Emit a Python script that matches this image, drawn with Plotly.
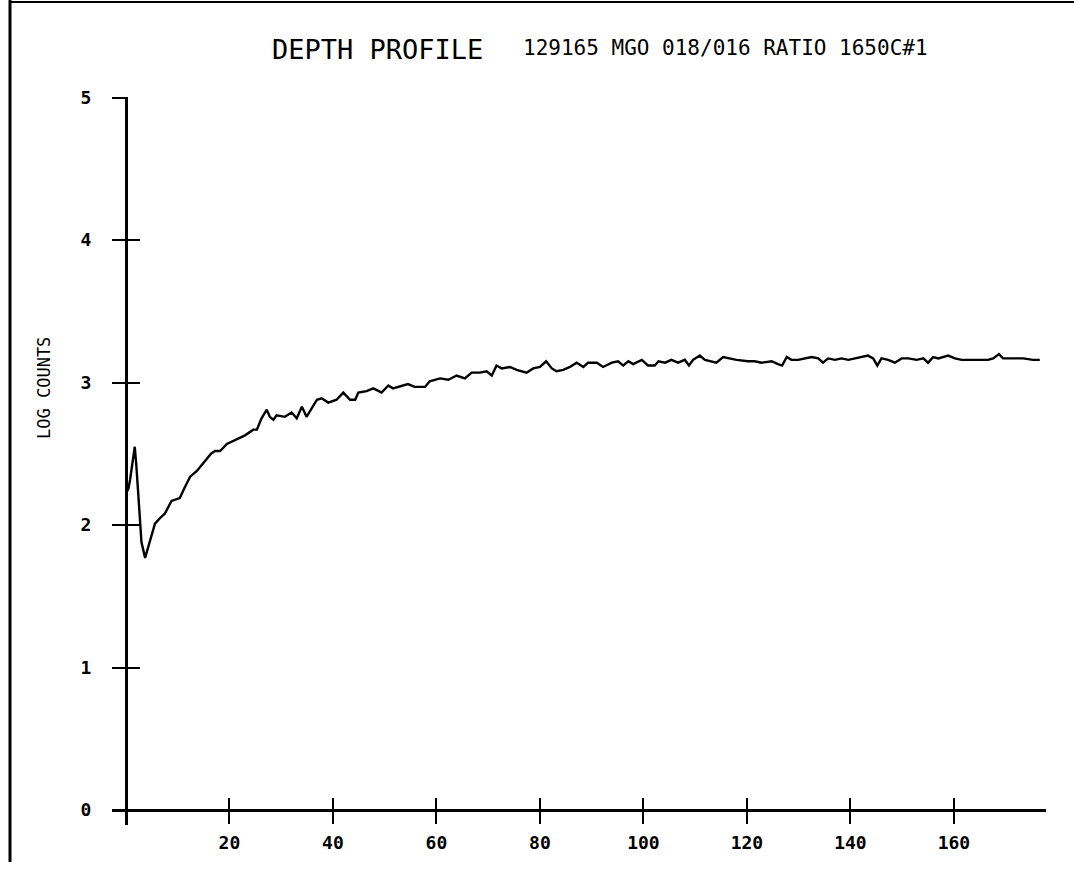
import plotly.graph_objects as go

# ---------------- data ----------------
depth = [0.0, 0.5, 0.8, 1.2, 1.5, 1.7, 2.0, 2.3, 2.6, 3.0, 3.7, 4.6, 5.6, 6.6, 7.5, 8.8,
         10.4, 11.3, 12.4, 13.7, 14.6, 15.6, 16.4, 17.2, 18.2, 19.5, 21.1, 23.0, 24.6,
         25.3, 26.2, 27.2, 27.8, 28.5, 29.1, 30.7, 32.0, 33.0, 34.0, 34.9, 36.9, 37.8,
         39.1, 40.7, 42.0, 43.3, 44.3, 44.9, 46.5, 47.8, 49.4, 50.7, 51.6, 53.3, 54.5,
         55.8, 57.8, 58.7, 60.7, 62.3, 63.9, 65.5, 66.8, 68.4, 69.7, 70.7, 71.6, 72.6,
         74.2, 75.5, 77.4, 78.7, 80.0, 81.2, 82.3, 83.2, 84.5, 85.8, 87.1, 88.4, 89.3,
         91.0, 92.2, 93.9, 95.1, 96.1, 97.1, 98.0, 99.7, 100.9, 102.2, 102.9, 104.2,
         105.4, 106.7, 108.0, 108.8, 109.6, 110.9, 111.9, 114.1, 115.4, 116.7, 118.0,
         120.2, 121.5, 122.8, 124.8, 126.0, 126.8, 127.7, 128.6, 129.9, 131.2, 132.5,
         133.8, 134.7, 135.7, 137.0, 138.3, 139.6, 140.9, 142.2, 143.4, 144.4, 145.2,
         146.0, 147.3, 148.6, 149.9, 151.2, 152.8, 154.1, 155.0, 156.0, 157.0, 158.9,
         160.2, 161.5, 163.1, 165.0, 166.6, 167.6, 168.7, 169.5, 171.5, 173.4, 175.3,
         176.6]

log_counts = [2.22, 2.26, 2.32, 2.42, 2.50, 2.55, 2.42, 2.24, 2.05, 1.88, 1.77, 1.88, 2.01,
              2.05, 2.08, 2.17, 2.19, 2.26, 2.34, 2.38, 2.42, 2.46, 2.50, 2.52, 2.52, 2.57,
              2.60, 2.63, 2.67, 2.67, 2.75, 2.81, 2.76, 2.74, 2.77, 2.76, 2.79, 2.75, 2.83,
              2.76, 2.88, 2.89, 2.86, 2.88, 2.93, 2.88, 2.88, 2.93, 2.94, 2.96, 2.93, 2.98,
              2.96, 2.98, 2.99, 2.97, 2.97, 3.01, 3.03, 3.02, 3.05, 3.03, 3.07, 3.07, 3.08,
              3.05, 3.12, 3.10, 3.11, 3.09, 3.07, 3.10, 3.11, 3.15, 3.10, 3.08, 3.09, 3.11,
              3.14, 3.11, 3.14, 3.14, 3.11, 3.14, 3.15, 3.12, 3.15, 3.13, 3.16, 3.12, 3.12,
              3.15, 3.14, 3.16, 3.14, 3.16, 3.12, 3.16, 3.19, 3.16, 3.14, 3.18, 3.17, 3.16,
              3.15, 3.15, 3.14, 3.15, 3.13, 3.12, 3.18, 3.16, 3.16, 3.17, 3.18, 3.17, 3.14,
              3.17, 3.16, 3.17, 3.16, 3.17, 3.18, 3.19, 3.17, 3.12, 3.17, 3.16, 3.14, 3.17,
              3.17, 3.16, 3.17, 3.14, 3.18, 3.17, 3.19, 3.17, 3.16, 3.16, 3.16, 3.16, 3.17,
              3.20, 3.17, 3.17, 3.17, 3.16, 3.16]

x_tick_values = [20, 40, 60, 80, 100, 120, 140, 160]
x_tick_labels = ["20", "40", "60", "80", "100", "120", "140", "160"]
y_tick_values = [0, 1, 2, 3, 4, 5]
y_tick_labels = ["0", "1", "2", "3", "4", "5"]

title_main = "DEPTH PROFILE"
title_sub = "129165 MGO 018/016 RATIO 1650C#1"
y_title = "LOG COUNTS"

# ---------------- layout constants ----------------
X_RANGE = [-2.7, 177.8]
Y_RANGE = [-0.105, 5.005]
FONT = "DejaVu Sans Mono"
W, H = 1074, 876
ML, MR, MT, MB = 112, 28, 97, 51

x_axis_pos = (0 - Y_RANGE[0]) / (Y_RANGE[1] - Y_RANGE[0])  # paper y of data y=0
y_axis_pos = (0 - X_RANGE[0]) / (X_RANGE[1] - X_RANGE[0])  # paper x of data x=0

fig = go.Figure()
fig.add_trace(go.Scatter(x=depth, y=log_counts, mode="lines",
                         line=dict(color="black", width=2.4),
                         showlegend=False, hoverinfo="skip"))
# dummy trace so the overlay axes (for crossing ticks) are drawn
fig.add_trace(go.Scatter(x=[None], y=[None], xaxis="x2", yaxis="y2",
                         showlegend=False, hoverinfo="skip"))

tickfont = dict(family=FONT, size=18, color="black", weight="bold")

fig.update_layout(
    width=W, height=H,
    margin=dict(l=ML, r=MR, t=MT, b=MB),
    paper_bgcolor="white", plot_bgcolor="white",
    xaxis=dict(range=X_RANGE, anchor="free", position=x_axis_pos,
               showline=True, linecolor="black", linewidth=3,
               ticks="outside", ticklen=12, tickwidth=2, tickcolor="black",
               tickvals=x_tick_values, ticktext=x_tick_labels,
               tickfont=tickfont, ticklabelstandoff=3,
               showgrid=False, zeroline=False),
    xaxis2=dict(range=X_RANGE, overlaying="x", anchor="free", position=x_axis_pos,
                side="bottom", showline=False,
                ticks="inside", ticklen=12, tickwidth=2, tickcolor="black",
                tickvals=x_tick_values, showticklabels=False,
                showgrid=False, zeroline=False),
    yaxis=dict(range=Y_RANGE, anchor="free", position=y_axis_pos,
               showline=True, linecolor="black", linewidth=3,
               ticks="outside", ticklen=13, tickwidth=2, tickcolor="black",
               tickvals=y_tick_values, ticktext=y_tick_labels,
               tickfont=tickfont, ticklabelstandoff=17,
               showgrid=False, zeroline=False),
    yaxis2=dict(range=Y_RANGE, overlaying="y", anchor="free", position=y_axis_pos,
                side="left", showline=False,
                ticks="inside", ticklen=13, tickwidth=2, tickcolor="black",
                tickvals=y_tick_values, showticklabels=False,
                showgrid=False, zeroline=False),
)

pw = W - ML - MR
ph = H - MT - MB

def px_to_paper_x(px):
    return (px - ML) / pw

def py_to_paper_y(py):
    return (H - MB - py) / ph

fig.add_annotation(text=title_main, xref="paper", yref="paper",
                   x=px_to_paper_x(270), y=py_to_paper_y(49),
                   xanchor="left", yanchor="middle", showarrow=False,
                   font=dict(family=FONT, size=27, color="black"))
fig.add_annotation(text=title_sub, xref="paper", yref="paper",
                   x=px_to_paper_x(521), y=py_to_paper_y(48),
                   xanchor="left", yanchor="middle", showarrow=False,
                   font=dict(family=FONT, size=21, color="black"))
fig.add_annotation(text=y_title, xref="paper", yref="paper",
                   x=px_to_paper_x(44), y=py_to_paper_y(388),
                   xanchor="center", yanchor="middle", textangle=-90,
                   showarrow=False,
                   font=dict(family=FONT, size=17, color="black"))

# scanned page frame (left and top edges)
fig.add_shape(type="line", xref="paper", yref="paper",
              x0=px_to_paper_x(10), x1=px_to_paper_x(10),
              y0=py_to_paper_y(0), y1=py_to_paper_y(862),
              line=dict(color="black", width=3))
fig.add_shape(type="line", xref="paper", yref="paper",
              x0=px_to_paper_x(10), x1=px_to_paper_x(1074),
              y0=py_to_paper_y(2), y1=py_to_paper_y(2),
              line=dict(color="black", width=2))

fig.write_html("out.html")
